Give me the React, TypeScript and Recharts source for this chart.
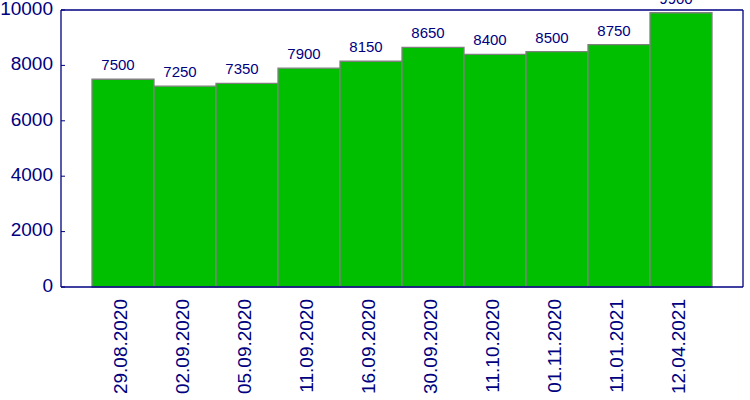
import React from "react";
import { BarChart, Bar, XAxis, YAxis, LabelList, ReferenceLine } from "recharts";

const categories = ["29.08.2020", "02.09.2020", "05.09.2020", "11.09.2020", "16.09.2020", "30.09.2020", "11.10.2020", "01.11.2020", "11.01.2021", "12.04.2021"];
const values = [7500, 7250, 7350, 7900, 8150, 8650, 8400, 8500, 8750, 9900];
const yTicks = [0, 2000, 4000, 6000, 8000, 10000];

const data = categories.map((c, i) => ({ pos: i, date: c, value: values[i] }));
const xTicks = categories.map((_, i) => i);
const xMin = -1;
const xMax = categories.length;

const NAVY = "#000080";
const FONT = "'Liberation Sans', Arial, sans-serif";

const XTick = (props: any) => {
  const { x, y, payload } = props;
  const tx = x - 3;
  const ty = y + 4;
  return (
    <text
      x={tx}
      y={ty}
      transform={`rotate(-90, ${tx}, ${ty})`}
      textAnchor="end"
      dy="0.35em"
      fill={NAVY}
      fontSize={19}
      fontFamily={FONT}
    >
      {categories[payload.value]}
    </text>
  );
};

export default function App() {
  return (
    <div style={{ position: "absolute", left: 0, top: 0, background: "#fff" }}>
      <BarChart
        width={750}
        height={400}
        data={data}
        margin={{ top: 10, right: 7, bottom: 0, left: 0 }}
        barCategoryGap={0}
        barGap={0}
      >
        <XAxis
          dataKey="pos"
          type="number"
          domain={[xMin, xMax]}
          ticks={xTicks}
          interval={0}
          allowDecimals={false}
          height={113}
          tickLine={false}
          axisLine={{ stroke: NAVY, strokeWidth: 1.3 }}
          tick={<XTick />}
        />
        <YAxis
          width={61}
          domain={[0, 10000]}
          ticks={yTicks}
          interval={0}
          tickSize={-4}
          tickMargin={12}
          tickLine={{ stroke: NAVY }}
          axisLine={{ stroke: NAVY, strokeWidth: 1.3 }}
          tick={{ fill: NAVY, fontSize: 19, fontFamily: FONT, dy: -2 }}
        />
        <ReferenceLine y={10000} stroke={NAVY} strokeWidth={1.3} ifOverflow="visible" />
        <ReferenceLine x={xMax} stroke={NAVY} strokeWidth={1.3} ifOverflow="visible" />
        <Bar dataKey="value" fill="#00BE00" stroke="#808080" strokeWidth={1.3} isAnimationActive={false}>
          <LabelList dataKey="value" position="top" offset={9} dx={-5} fill={NAVY} fontSize={15} fontFamily={FONT} />
        </Bar>
      </BarChart>
    </div>
  );
}
